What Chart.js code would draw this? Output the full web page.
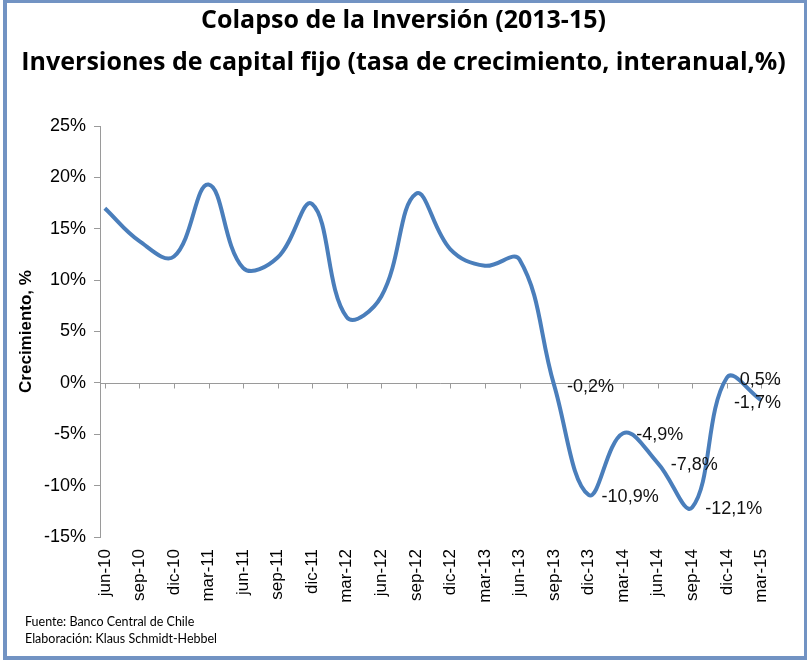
<!DOCTYPE html>
<html>
<head>
<meta charset="utf-8">
<script src="https://cdn.jsdelivr.net/npm/chart.js@4"></script>
<style>
  html, body { margin: 0; padding: 0; background: #fff; }
  #wrap { position: relative; width: 807px; height: 660px; overflow: hidden; }
  #frame { position: absolute; left: 3px; top: -1px; width: 797px; height: 653px; border: 4px solid #7293c3; pointer-events: none; }
  #nota { position: absolute; left: 25px; top: 613px; font: 12.5px Lato, "Open Sans", sans-serif; line-height: 17px; color: #000; }
</style>
</head>
<body>
<div id="wrap">
  <canvas id="grafico" width="807" height="660"></canvas>
  <div id="frame"></div>
  <div id="nota">Fuente: Banco Central de Chile<br>Elaboración: Klaus Schmidt-Hebbel</div>
</div>
<script>
// Trimestres y tasa de crecimiento interanual (%)
const trimestres = ['jun-10', 'sep-10', 'dic-10', 'mar-11', 'jun-11', 'sep-11', 'dic-11', 'mar-12', 'jun-12', 'sep-12',
                    'dic-12', 'mar-13', 'jun-13', 'sep-13', 'dic-13', 'mar-14', 'jun-14', 'sep-14', 'dic-14', 'mar-15'];
const crecimiento = [17.0, 13.8, 12.3, 19.3, 11.2, 12.2, 17.4, 6.4, 8.4, 18.4,
                     13.0, 11.4, 12.0, -0.2, -10.9, -4.9, -7.8, -12.1, 0.5, -1.7];
// Etiquetas de datos (solo desde sep-13)
const etiquetas = [null, null, null, null, null, null, null, null, null, null,
                   null, null, null, '-0,2%', '-10,9%', '-4,9%', '-7,8%', '-12,1%', '0,5%', '-1,7%'];
const ticksY = [-15, -10, -5, 0, 5, 10, 15, 20, 25];

const gris = '#9a9a9a';

// linea del cero con las marcas del eje de categorias
const lineaCero = {
  id: 'lineaCero',
  beforeDatasetsDraw(chart) {
    const { ctx, chartArea, scales: { x, y } } = chart;
    const y0 = Math.round(y.getPixelForValue(0)) + 0.5;
    ctx.save();
    ctx.strokeStyle = gris;
    ctx.lineWidth = 1;
    ctx.beginPath();
    ctx.moveTo(chartArea.left, y0);
    ctx.lineTo(x.getPixelForValue(19.55), y0);
    trimestres.forEach((t, i) => {
      const px = Math.round(x.getPixelForValue(i)) + 0.5;
      ctx.moveTo(px, y0);
      ctx.lineTo(px, y0 + 5);
    });
    ctx.stroke();
    ctx.restore();
  }
};

const etiquetasDatos = {
  id: 'etiquetasDatos',
  afterDatasetsDraw(chart) {
    const { ctx } = chart;
    const meta = chart.getDatasetMeta(0);
    ctx.save();
    ctx.font = '18px Arial, "Liberation Sans", sans-serif';
    ctx.fillStyle = '#111';
    ctx.textBaseline = 'middle';
    meta.data.forEach((pt, i) => {
      if (!etiquetas[i]) return;
      if (i === etiquetas.length - 1) {
        ctx.textAlign = 'center';
        ctx.fillText(etiquetas[i], pt.x - 4, pt.y + 3);
      } else {
        ctx.textAlign = 'left';
        ctx.fillText(etiquetas[i], pt.x + 13, pt.y + 2);
      }
    });
    ctx.restore();
  }
};

new Chart(document.getElementById('grafico').getContext('2d'), {
  type: 'line',
  data: {
    datasets: [{
      data: crecimiento.map((v, i) => ({ x: i, y: v })),
      borderColor: '#4a7ebb',
      borderWidth: 4,
      pointRadius: 0,
      tension: 0.4,
      fill: false
    }]
  },
  options: {
    responsive: false,
    animation: false,
    layout: { padding: 0 },
    plugins: {
      legend: { display: false },
      tooltip: { enabled: false },
      title: {
        display: true,
        text: ['Colapso de la Inversión (2013-15)', 'Inversiones de capital fijo (tasa de crecimiento, interanual,%)'],
        color: '#000',
        font: { family: '"Open Sans", Lato, sans-serif', size: 25, weight: 'bold', lineHeight: 1.68 },
        padding: { top: 0, bottom: 42 }
      }
    },
    scales: {
      x: {
        type: 'linear',
        min: -0.14,
        max: 20.32,
        afterBuildTicks: s => { s.ticks = trimestres.map((t, i) => ({ value: i })); },
        afterFit: s => { s.height = 123; },
        grid: { display: false },
        border: { display: false },
        ticks: {
          autoSkip: false,
          minRotation: 90,
          maxRotation: 90,
          padding: 4,
          color: '#000',
          font: { family: 'Arial, "Liberation Sans", sans-serif', size: 17 },
          callback: v => trimestres[v]
        }
      },
      y: {
        min: -15,
        max: 25,
        afterBuildTicks: s => { s.ticks = ticksY.map(v => ({ value: v })); },
        afterFit: s => { s.width = 100; },
        grid: {
          drawOnChartArea: false,
          tickColor: gris,
          tickLength: 6
        },
        border: { display: true, color: gris, width: 1 },
        ticks: {
          padding: 8,
          color: '#000',
          font: { family: 'Arial, "Liberation Sans", sans-serif', size: 18 },
          callback: v => v + '%'
        },
        title: {
          display: true,
          text: 'Crecimiento, %',
          color: '#000',
          font: { family: '"Liberation Sans Narrow", Arial, sans-serif', size: 17, weight: 'bold' },
          padding: { top: 16, bottom: 0 }
        }
      }
    }
  },
  plugins: [lineaCero, etiquetasDatos]
});
</script>
</body>
</html>
